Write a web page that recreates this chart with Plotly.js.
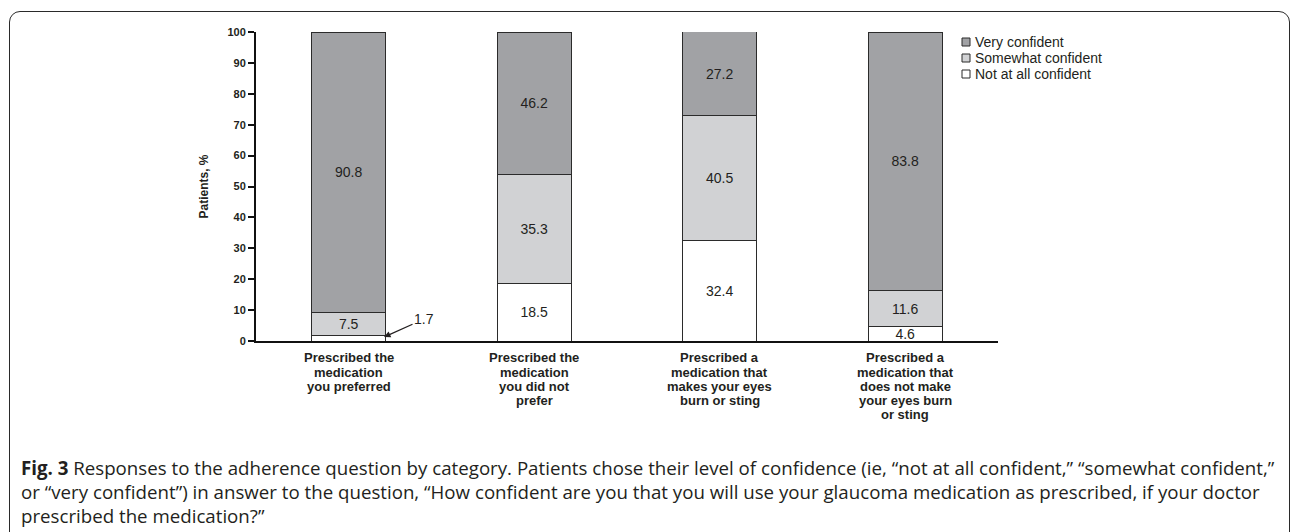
<!DOCTYPE html>
<html>
<head>
<meta charset="utf-8">
<script src="https://cdn.plot.ly/plotly-3.0.1.min.js"></script>
<style>
  html, body { margin: 0; padding: 0; background: #ffffff; }
  #wrap { position: relative; width: 1292px; height: 532px; overflow: hidden; }
  #frame {
    position: absolute; left: 9px; top: 11px; width: 1281px; height: 560px;
    border: 1.6px solid #2a2a2a; border-radius: 11px; box-sizing: border-box;
  }
  #chart { position: absolute; left: 0; top: 0; width: 1292px; height: 532px; }
</style>
</head>
<body>
<div id="wrap">
  <div id="frame"></div>
  <div id="chart"></div>
</div>
<script>
// Share of patients (%) at each confidence level, per prescribing scenario
const categories = [
  'Prescribed the<br>medication<br>you preferred',
  'Prescribed the<br>medication<br>you did not<br>prefer',
  'Prescribed a<br>medication that<br>makes your eyes<br>burn or sting',
  'Prescribed a<br>medication that<br>does not make<br>your eyes burn<br>or sting'
];
const notConfident      = [1.7, 18.5, 32.4, 4.6];
const somewhatConfident = [7.5, 35.3, 40.5, 11.6];
const veryConfident     = [90.8, 46.2, 27.2, 83.8];

const seriesNames  = ['Very confident', 'Somewhat confident', 'Not at all confident'];
const seriesColors = ['#a1a2a5', '#d1d2d4', '#ffffff'];

const yTickVals = [0, 10, 20, 30, 40, 50, 60, 70, 80, 90, 100];
const yTitle = 'Patients, %';

const captionLines = [
  '<b>Fig. 3</b> Responses to the adherence question by category. Patients chose their level of confidence (ie, \u201cnot at all confident,\u201d \u201csomewhat confident,\u201d',
  'or \u201cvery confident\u201d) in answer to the question, \u201cHow confident are you that you will use your glaucoma medication as prescribed, if your doctor',
  'prescribed the medication?\u201d'
];

// ---- layout geometry (pixels) ----
const W = 1292, H = 532;
const M = { l: 256, r: 294, t: 32, b: 191 };
const plotW = W - M.l - M.r, plotH = H - M.t - M.b;
const px2x = px => (px - M.l) / plotW;
const px2y = py => (H - M.b - py) / plotH;

const ink = '#231f20';
const edge = '#2b2b2b';
const arial = 'Arial, "Liberation Sans", sans-serif';

// label text inside a segment; very thin segments get an arrow callout instead
const minInside = 3;
const segText = vals => vals.map(v => v >= minInside ? v.toFixed(1) : '');

function barTrace(name, vals, color) {
  return {
    type: 'bar', name: name, x: categories, y: vals,
    width: 0.4,
    marker: { color: color, line: { color: edge, width: 1 } },
    text: segText(vals), textposition: 'inside', insidetextanchor: 'middle',
    constraintext: 'none', textangle: 0,
    textfont: { family: arial, size: 14, color: ink },
    hoverinfo: 'skip', showlegend: false
  };
}

const data = [
  barTrace(seriesNames[2], notConfident, seriesColors[2]),
  barTrace(seriesNames[1], somewhatConfident, seriesColors[1]),
  barTrace(seriesNames[0], veryConfident, seriesColors[0])
];

const annotations = [];
const shapes = [];

// callouts for segments too thin to hold their label
notConfident.forEach((v, i) => {
  if (v < minInside) {
    annotations.push({
      x: i + 0.19, y: v * 0.75, xref: 'x', yref: 'y',
      text: v.toFixed(1), showarrow: true,
      arrowhead: 2, arrowsize: 1, arrowwidth: 1.3, arrowcolor: ink,
      ax: 40, ay: -18, standoff: 0,
      font: { family: arial, size: 14, color: ink }
    });
  }
});

// category labels under the axis, one annotation per line for tight leading
const catTop = 358, catLead = 14;
categories.forEach((cat, i) => {
  cat.split('<br>').forEach((line, k) => {
    annotations.push({
      x: i, xref: 'x', yref: 'paper', y: px2y(catTop + k * catLead),
      xanchor: 'center', yanchor: 'middle', showarrow: false,
      text: '<b>' + line + '</b>',
      font: { family: arial, size: 13, color: ink }
    });
  });
});

// legend: small outlined squares with labels
const legendRowsY = [42, 58, 74];
const legendX = 966;
seriesNames.forEach((name, k) => {
  const cy = legendRowsY[k];
  shapes.push({
    type: 'rect', xref: 'paper', yref: 'paper',
    x0: px2x(legendX - 4), x1: px2x(legendX + 4),
    y0: px2y(cy + 4), y1: px2y(cy - 4),
    fillcolor: seriesColors[k], line: { color: edge, width: 1 }
  });
  annotations.push({
    xref: 'paper', yref: 'paper', x: px2x(legendX + 7), y: px2y(cy),
    xanchor: 'left', yanchor: 'middle', showarrow: false,
    text: name, font: { family: arial, size: 14, color: ink }
  });
});

// figure caption
const captionY = [467, 491, 515];
captionLines.forEach((line, k) => {
  annotations.push({
    xref: 'paper', yref: 'paper', x: px2x(19), y: px2y(captionY[k]),
    xanchor: 'left', yanchor: 'middle', showarrow: false, align: 'left',
    text: line, font: { family: '"Open Sans", sans-serif', size: 18.7, color: ink }
  });
});

const layout = {
  width: W, height: H,
  margin: M,
  paper_bgcolor: 'rgba(0,0,0,0)', plot_bgcolor: 'rgba(0,0,0,0)',
  barmode: 'stack',
  showlegend: false,
  xaxis: {
    range: [-0.5, 3.5], fixedrange: true,
    showline: true, linewidth: 2, linecolor: '#111',
    ticks: '', showgrid: false, zeroline: false, showticklabels: false
  },
  yaxis: {
    range: [0, 100], tickvals: yTickVals, fixedrange: true,
    showline: true, linewidth: 2, linecolor: '#111',
    ticks: 'outside', ticklen: 6, tickwidth: 2, tickcolor: '#111',
    showgrid: false, zeroline: false,
    tickfont: { family: arial, size: 11, color: ink, weight: 'bold' },
    title: { text: yTitle, standoff: 16, font: { family: arial, size: 12, color: ink, weight: 'bold' } }
  },
  shapes: shapes,
  annotations: annotations
};

Plotly.newPlot('chart', data, layout, { staticPlot: true, displayModeBar: false });
</script>
</body>
</html>
